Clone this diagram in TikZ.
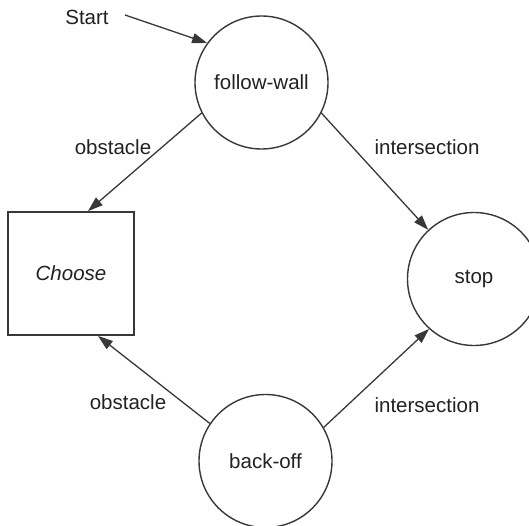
\documentclass[tikz,border=0pt]{standalone}
\usepackage{fontspec}
\setmainfont{Liberation Sans}
\usetikzlibrary{arrows.meta,calc}
\definecolor{linecol}{HTML}{383838}
\definecolor{textcol}{HTML}{222222}
\begin{document}
\begin{tikzpicture}[x=1pt,y=-1pt,
  lbl/.style={text=textcol, inner sep=0pt, font=\fontsize{20.5}{24}\selectfont},
  state/.style={lbl, draw=linecol, line width=1.4pt, circle, minimum size=133pt},
  choosebox/.style={lbl, draw=linecol, line width=1.8pt, rectangle, minimum width=126pt, minimum height=123pt, font=\fontsize{20.5}{24}\selectfont\itshape},
  conn/.style={draw=linecol, line width=1.3pt, -{Triangle[length=15pt,width=10pt]}}
]
\fill[white] (0,0) rectangle (529,526);
\useasboundingbox (0,0) rectangle (529,526);

\node[state] (fw) at (261.5,82.5) {follow-wall};
\node[state] (stop) at (474,279) {stop};
\node[state] (bo) at (265.5,461) {back-off};
\node[choosebox] (ch) at (71,273.5) {Choose};

\node[lbl] (start) at (87,17) {Start};
\coordinate (s0) at (125,15);

\node[lbl] (ob1) at (113,147) {obstacle};
\node[lbl] (in1) at (427,147) {intersection};
\node[lbl] (ob2) at (128,402) {obstacle};
\node[lbl] (in2) at (427,405) {intersection};

\draw[conn] (s0) -- (fw.144);
\draw[conn] (fw.207) -- ($(ch.north)+(17,0)$);
\draw[conn] (fw.-27) -- (stop.133);
\draw[conn] (bo.146) -- ($(ch.south)+(27,0)$);
\draw[conn] (bo.30) -- (stop.228);
\end{tikzpicture}
\end{document}
